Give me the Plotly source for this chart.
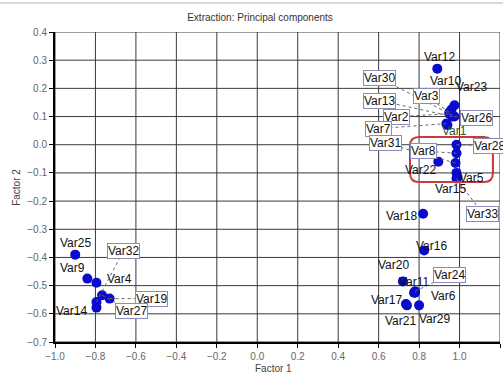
import plotly.graph_objects as go

# ---- data ----
variables = ["Var1", "Var2", "Var3", "Var4", "Var5", "Var6", "Var7", "Var8", "Var9", "Var10",
             "Var11", "Var12", "Var13", "Var14", "Var15", "Var16", "Var17", "Var18", "Var19", "Var20",
             "Var21", "Var22", "Var23", "Var24", "Var25", "Var26", "Var27", "Var28", "Var29", "Var30",
             "Var31", "Var32", "Var33"]
factor1 = [0.94, 0.95, 0.95, -0.795, 0.985, 0.78, 0.935, 0.985, -0.84, 0.96,
           0.775, 0.89, 0.965, -0.795, 0.99, 0.825, 0.735, 0.82, -0.73, 0.72,
           0.74, 0.895, 0.975, 0.78, -0.9, 0.975, -0.767, 0.985, 0.80, 0.965,
           0.98, -0.795, 0.985]
factor2 = [0.07, 0.11, 0.115, -0.49, -0.10, -0.525, 0.075, -0.03, -0.475, 0.125,
           -0.525, 0.27, 0.10, -0.578, -0.115, -0.375, -0.565, -0.245, -0.546, -0.485,
           -0.57, -0.06, 0.14, -0.52, -0.39, 0.10, -0.534, 0.0, -0.57, 0.105,
           -0.065, -0.558, -0.12]
x_ticks = [-1.0, -0.8, -0.6, -0.4, -0.2, 0.0, 0.2, 0.4, 0.6, 0.8, 1.0, 1.2]
y_ticks = [0.4, 0.3, 0.2, 0.1, 0.0, -0.1, -0.2, -0.3, -0.4, -0.5, -0.6, -0.7]

# ---- label placement (pixel offsets from the point, dy positive = down; boxed flag) ----
label_layout = {
    "Var1": (7, 6, False), "Var2": (-53, 3, True), "Var3": (-23, -16, True),
    "Var4": (23, -4, False), "Var5": (15, 5, False), "Var6": (28, 3, False),
    "Var7": (-68, 5, True), "Var8": (-33, -2, True), "Var9": (-15, -11, False),
    "Var10": (-6, -29, False), "Var11": (0, -11, False), "Var12": (2, -12, False),
    "Var13": (-73, -16, True), "Var14": (-25, 3, False), "Var15": (-7, 12, False),
    "Var16": (7, -4, False), "Var17": (-19, -4, False), "Var18": (-22, 2, False),
    "Var19": (42, 0, True), "Var20": (-9, -16, False), "Var21": (-6, 16, False),
    "Var22": (-18, 8, False), "Var23": (17, -18, False), "Var24": (34, -16, True),
    "Var25": (0, -12, False), "Var26": (22, 1, True), "Var27": (29, 16, True),
    "Var28": (33, 1, True), "Var29": (15, 14, False), "Var30": (-73, -37, True),
    "Var31": (-70, -20, True), "Var32": (27, -51, True), "Var33": (26, 35, True),
}
label_colors = {"Var1": "#2d5a2d"}

FONT = "Arial, Liberation Sans, sans-serif"
GRID = "#3a3a3a"

fig = go.Figure()
fig.add_trace(go.Scatter(
    x=factor1, y=factor2, mode="markers", text=variables,
    marker=dict(size=10, color="#0b0bcc", line=dict(width=0)),
    hoverinfo="text", showlegend=False,
))

shapes = []
# grid lines at the tick positions
for xv in x_ticks:
    shapes.append(dict(type="line", xref="x", yref="paper", x0=xv, x1=xv, y0=0, y1=1,
                       line=dict(color=GRID, width=1), layer="below"))
for yv in y_ticks:
    shapes.append(dict(type="line", xref="paper", yref="y", x0=0, x1=1, y0=yv, y1=yv,
                       line=dict(color=GRID, width=1), layer="below"))

annotations = []
for name, fx, fy in zip(variables, factor1, factor2):
    dx, dy, boxed = label_layout[name]
    if boxed:
        shapes.append(dict(
            type="line", xref="x", yref="y", xsizemode="pixel", ysizemode="pixel",
            xanchor=fx, yanchor=fy, x0=0, y0=0, x1=dx, y1=-dy,
            line=dict(color="#666666", width=1, dash="dot"), layer="above",
        ))
    ann = dict(
        x=fx, y=fy, xref="x", yref="y", text=name, showarrow=False,
        xshift=dx, yshift=-dy,
        font=dict(family=FONT, size=12, color=label_colors.get(name, "#111111")),
    )
    if boxed:
        ann.update(bgcolor="white", bordercolor="#8c8cb8", borderwidth=1, borderpad=0)
    annotations.append(ann)

# highlight box (rounded rectangle) around the middle cluster
hx0, hx1, hy0, hy1 = 0.755, 1.165, -0.132, 0.027
rx, ry = 0.045, 0.032
path = (f"M {hx0+rx},{hy1} L {hx1-rx},{hy1} Q {hx1},{hy1} {hx1},{hy1-ry} "
        f"L {hx1},{hy0+ry} Q {hx1},{hy0} {hx1-rx},{hy0} "
        f"L {hx0+rx},{hy0} Q {hx0},{hy0} {hx0},{hy0+ry} "
        f"L {hx0},{hy1-ry} Q {hx0},{hy1} {hx0+rx},{hy1} Z")
shapes.append(dict(type="path", xref="x", yref="y", path=path,
                   line=dict(color="#c8393b", width=2), layer="above"))

# thin grey rule at the very top of the image
shapes.append(dict(type="line", xref="paper", yref="paper",
                   x0=-55 / 445, x1=448 / 445, y0=339 / 310, y1=339 / 310,
                   line=dict(color="#b0b0b0", width=1)))

# axis titles
annotations.append(dict(x=0.49, y=-0.085, xref="paper", yref="paper", text="Factor 1",
                        showarrow=False, font=dict(family=FONT, size=10, color="#444444"),
                        yanchor="middle"))
annotations.append(dict(x=-0.088, y=0.5, xref="paper", yref="paper", text="Factor 2",
                        showarrow=False, textangle=-90,
                        font=dict(family=FONT, size=10, color="#444444"), xanchor="center"))

fig.update_layout(
    template="none",
    width=503, height=376,
    margin=dict(l=55, r=3, t=32, b=34),
    paper_bgcolor="white", plot_bgcolor="white",
    hovermode=False,
    title=dict(text="Extraction: Principal components", x=260 / 503, xanchor="center",
               y=1 - 17 / 376, yanchor="middle",
               font=dict(family=FONT, size=10, color="#333333")),
    shapes=shapes, annotations=annotations,
    xaxis=dict(range=[-1.0, 1.2], tickvals=x_ticks, tickformat=".1f",
               showgrid=False, zeroline=False,
               showline=True, linecolor="black", linewidth=2,
               ticks="outside", ticklen=4, tickcolor="black", tickwidth=1,
               tickfont=dict(family=FONT, size=10, color="#666666")),
    yaxis=dict(range=[-0.7, 0.4], tickvals=y_ticks, tickformat=".1f",
               showgrid=False, zeroline=False,
               showline=True, linecolor="black", linewidth=2,
               ticks="outside", ticklen=4, tickcolor="black", tickwidth=1,
               tickfont=dict(family=FONT, size=10, color="#666666")),
)

fig.write_html("out.html", config={"displayModeBar": False},
               post_script="document.body.style.margin='0';")
